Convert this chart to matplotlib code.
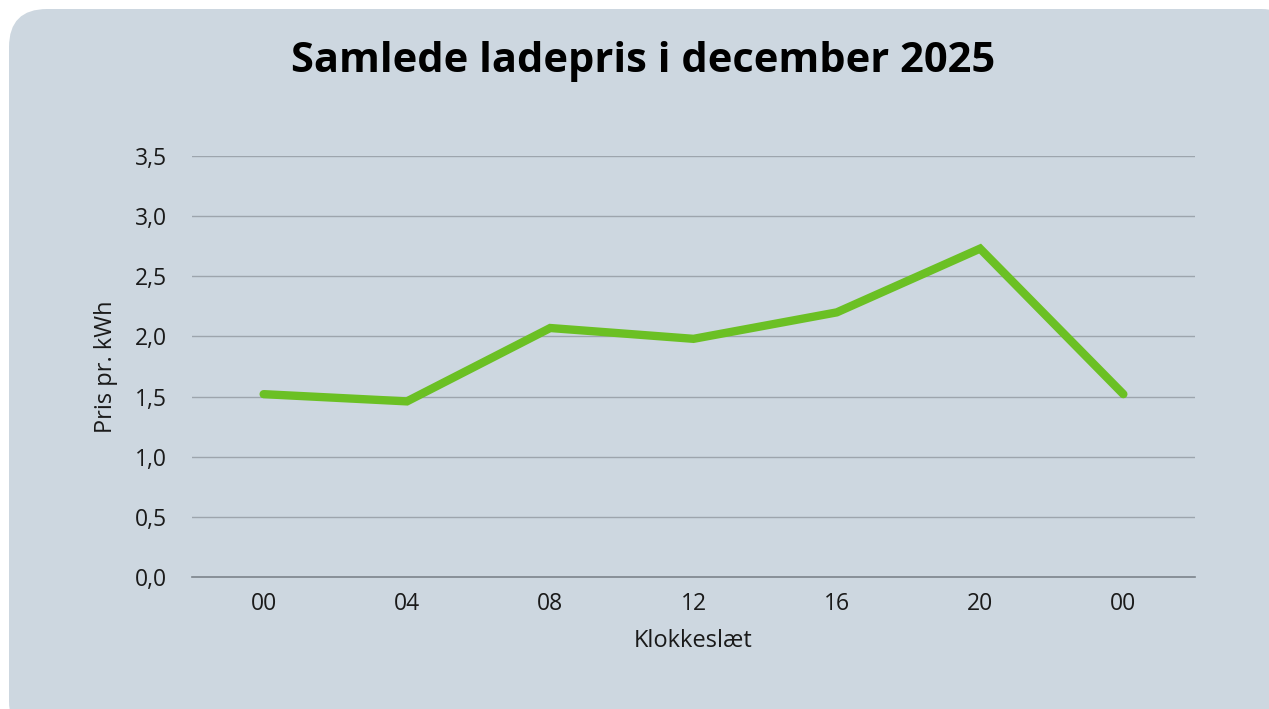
import matplotlib.pyplot as plt
from matplotlib.patches import FancyBboxPatch

hours = ['00', '04', '08', '12', '16', '20', '00']
price = [1.52, 1.46, 2.07, 1.98, 2.20, 2.73, 1.52]
y_ticks = [0.0, 0.5, 1.0, 1.5, 2.0, 2.5, 3.0, 3.5]

W, H = 1269, 709
bg = '#CDD7E0'
green = '#6BC024'

plt.rcParams['font.family'] = ['Open Sans', 'DejaVu Sans']

fig = plt.figure(figsize=(W / 100, H / 100), dpi=100)
fig.patch.set_facecolor('white')

# rounded panel behind the chart (pixel coords, y from top)
box = FancyBboxPatch((9 / W, -30 / H), (W + 30 - 9) / W, (H + 30 - 9) / H,
                     boxstyle='round,pad=0,rounding_size=0.03',
                     transform=fig.transFigure, facecolor=bg,
                     edgecolor='none', mutation_aspect=W / H, zorder=-5)
fig.patches.append(box)

ax = fig.add_axes([192 / W, 1 - 577 / H, (1195 - 192) / W, (577 - 156) / H])
ax.set_facecolor('none')
ax.set_zorder(2)

x = range(len(hours))
ax.plot(x, price, color=green, lw=6, solid_capstyle='round',
        solid_joinstyle='miter', zorder=3)

ax.set_xlim(-0.5, len(hours) - 0.5)
ax.set_ylim(0, 3.5)
ax.set_xticks(list(x))
ax.set_xticklabels(hours)
ax.set_yticks(y_ticks)
ax.set_yticklabels([f'{v:.1f}'.replace('.', ',') for v in y_ticks])
ax.tick_params(length=0, labelsize=16.5, colors='#1a1a1a')
ax.tick_params(axis='x', pad=11)
ax.tick_params(axis='y', pad=18)

for v in y_ticks[1:]:
    ax.axhline(v, color='#9DA5AD', lw=1, zorder=1)
for s in ['top', 'right', 'left']:
    ax.spines[s].set_visible(False)
ax.spines['bottom'].set_color('#7C848B')
ax.spines['bottom'].set_linewidth(1.2)

ax.set_xlabel('Klokkeslæt', fontsize=17, color='#1a1a1a', labelpad=9)
ax.set_ylabel('Pris pr. kWh', fontsize=17, color='#1a1a1a', labelpad=12)

fig.text(643 / W, 1 - 62 / H, 'Samlede ladepris i december 2025',
         ha='center', va='center', fontsize=30, fontweight='bold',
         color='black', zorder=3)

fig.savefig('out.png', dpi=100, facecolor='white')
